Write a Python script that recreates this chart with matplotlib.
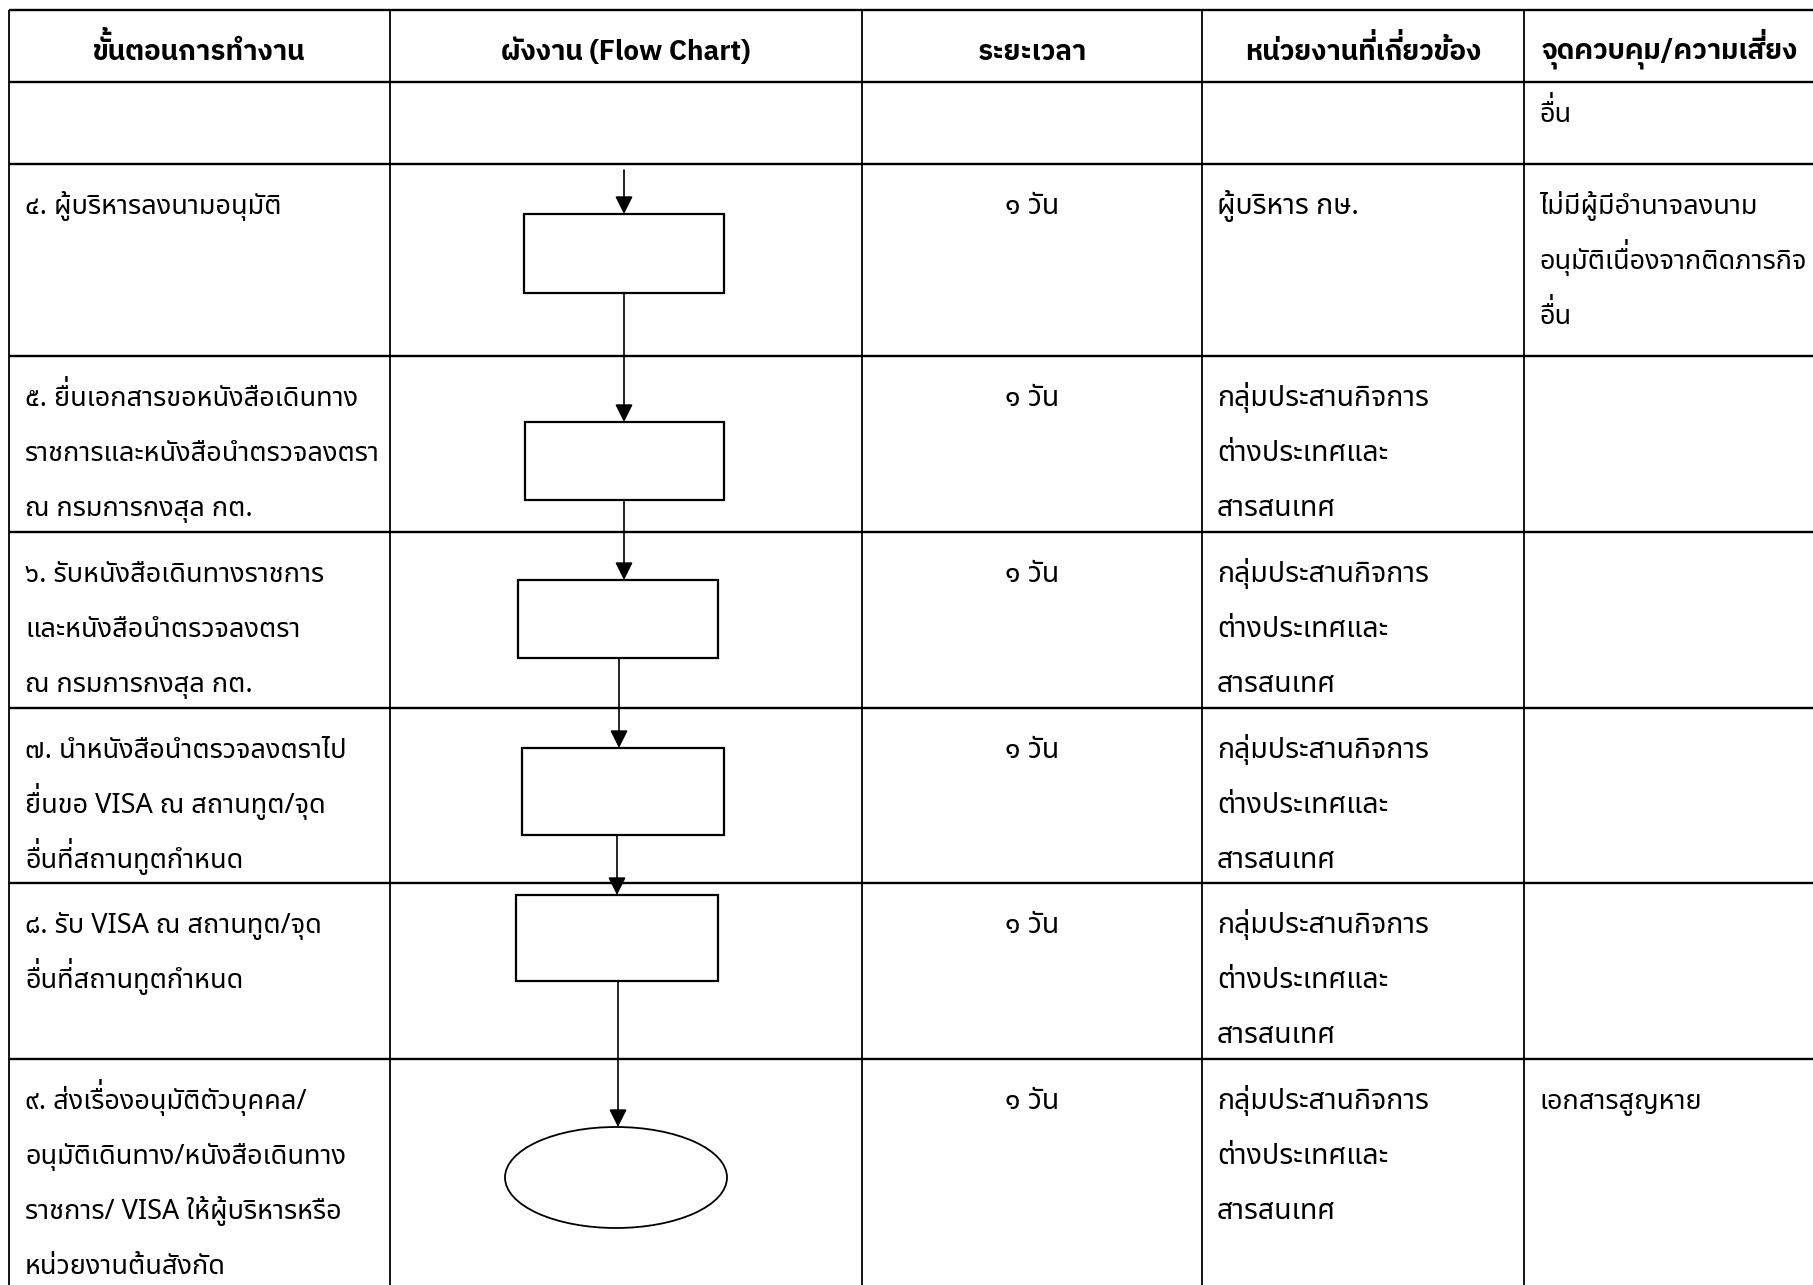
import matplotlib
matplotlib.use("Agg")
import matplotlib.pyplot as plt
from matplotlib import font_manager, _text_helpers
from matplotlib.patches import Rectangle, Ellipse, FancyArrowPatch

# table grid (pixel coords of the page)
col_edges = [9, 390, 862, 1202, 1524]
row_edges = [10, 82, 164, 356, 532, 708, 883, 1059]
header_x = [199, 626, 1032, 1363, 1670]

headers = ["ขั้นตอนการทำงาน", "ผังงาน (Flow Chart)", "ระยะเวลา",
           "หน่วยงานที่เกี่ยวข้อง", "จุดควบคุม/ความเสี่ยง"]

unit_kfa = ["กลุ่มประสานกิจการ", "ต่างประเทศและ", "สารสนเทศ"]

steps = [
    [],
    ["๔. ผู้บริหารลงนามอนุมัติ"],
    ["๕. ยื่นเอกสารขอหนังสือเดินทาง", "ราชการและหนังสือนำตรวจลงตรา", "ณ กรมการกงสุล กต."],
    ["๖. รับหนังสือเดินทางราชการ", "และหนังสือนำตรวจลงตรา", "ณ กรมการกงสุล กต."],
    ["๗. นำหนังสือนำตรวจลงตราไป", "ยื่นขอ VISA ณ สถานทูต/จุด", "อื่นที่สถานทูตกำหนด"],
    ["๘. รับ VISA ณ สถานทูต/จุด", "อื่นที่สถานทูตกำหนด"],
    ["๙. ส่งเรื่องอนุมัติตัวบุคคล/", "อนุมัติเดินทาง/หนังสือเดินทาง",
     "ราชการ/ VISA ให้ผู้บริหารหรือ", "หน่วยงานต้นสังกัด"],
]
durations = ["", "๑ วัน", "๑ วัน", "๑ วัน", "๑ วัน", "๑ วัน", "๑ วัน"]
units = [[], ["ผู้บริหาร กษ."], unit_kfa, unit_kfa, unit_kfa, unit_kfa, unit_kfa]
risks = [
    ["อื่น"],
    ["ไม่มีผู้มีอำนาจลงนาม", "อนุมัติเนื่องจากติดภารกิจ", "อื่น"],
    [], [], [], [],
    ["เอกสารสูญหาย"],
]

# flow chart shapes: (x0, y0, x1, y1)
boxes = [(524, 214, 724, 293), (525, 422, 724, 500), (518, 580, 718, 658),
         (522, 748, 724, 835), (516, 895, 718, 981)]
end_oval = (505, 1127, 727, 1228)
# connectors: (x, y_start, y_tip)
connectors = [(624, 170, 214), (624, 293, 422), (624, 500, 580),
              (619, 658, 748), (617, 835, 895), (618, 981, 1127)]

body_font = ['Noto Sans Thai', 'DejaVu Sans']
head_font = ['IBM Plex Sans Thai', 'Noto Sans Thai', 'DejaVu Sans']
plt.rcParams['font.family'] = body_font

W, H = 1813, 1285
fig = plt.figure(figsize=(W / 100, H / 100), dpi=100)
ax = fig.add_axes([0, 0, 1, 1])
ax.set_xlim(0, W)
ax.set_ylim(H, 0)
ax.axis('off')
renderer = fig.canvas.get_renderer()

UPPER = '\u0e31\u0e34\u0e35\u0e36\u0e37\u0e47'
TONES = '\u0e48\u0e49\u0e4a\u0e4b\u0e4c'
NBSP = '\u00a0'


def put(x, y, s, fs, family, weight='normal', ha='left'):
    # no shaping in matplotlib: a tone mark over an upper vowel would sit on
    # top of the vowel, so draw those marks separately, lifted
    chars = list(s)
    stacked = [i for i, c in enumerate(chars)
               if c in TONES and i > 0 and chars[i - 1] in UPPER]
    base = ''.join(c for i, c in enumerate(chars) if i not in stacked)
    t = ax.text(x, y, base, ha=ha, va='baseline', fontsize=fs,
                family=family, fontweight=weight)
    if not stacked:
        return
    font = font_manager.get_font(font_manager.findfont(t.get_fontproperties()))
    font.set_size(fs, fig.dpi)
    pen = [item.x for item in _text_helpers.layout(s, font)]
    x0 = t.get_window_extent(renderer).x0
    lift = 0.25 * fs * fig.dpi / 72
    for i in stacked:
        mark = NBSP + chars[i]
        adv = [item.x for item in _text_helpers.layout(mark, font)][1]
        ax.text(x0 + pen[i] - adv, y - lift, mark, ha='left', va='baseline',
                fontsize=fs, family=family, fontweight=weight)


for y in row_edges:
    ax.plot([col_edges[0], W], [y, y], color='black', lw=1.7, solid_capstyle='butt')
for x in col_edges:
    ax.plot([x, x], [row_edges[0], H], color='black', lw=1.3, solid_capstyle='butt')

# header
for xc, h in zip(header_x, headers):
    put(xc, 60, h, 20, head_font, weight='bold', ha='center')

line_gap = 55
body_fs = 19.5
mid_fs = 20.5
for r in range(len(steps)):
    top = row_edges[r + 1]
    base = top + (40 if r == 0 else 50)
    for k, s in enumerate(steps[r]):
        put(25, base + k * line_gap, s, body_fs, body_font)
    if durations[r]:
        put((col_edges[2] + col_edges[3]) / 2, base, durations[r], mid_fs,
            body_font, ha='center')
    for k, s in enumerate(units[r]):
        put(1217, base + k * line_gap, s, mid_fs, body_font)
    for k, s in enumerate(risks[r]):
        put(1539, base + k * line_gap, s, body_fs, body_font)

# flow chart
for x0, y0, x1, y1 in boxes:
    ax.add_patch(Rectangle((x0, y0), x1 - x0, y1 - y0, fill=False, ec='black', lw=1.6))
ex0, ey0, ex1, ey1 = end_oval
ax.add_patch(Ellipse(((ex0 + ex1) / 2, (ey0 + ey1) / 2), ex1 - ex0, ey1 - ey0,
                     fill=False, ec='black', lw=1.3))
for x, ys, yt in connectors:
    ax.add_patch(FancyArrowPatch((x, ys), (x, yt),
                                 arrowstyle='-|>,head_length=0.4,head_width=0.2',
                                 mutation_scale=27, lw=1.2, color='black',
                                 shrinkA=0, shrinkB=0))

fig.savefig('out.png', dpi=100)
